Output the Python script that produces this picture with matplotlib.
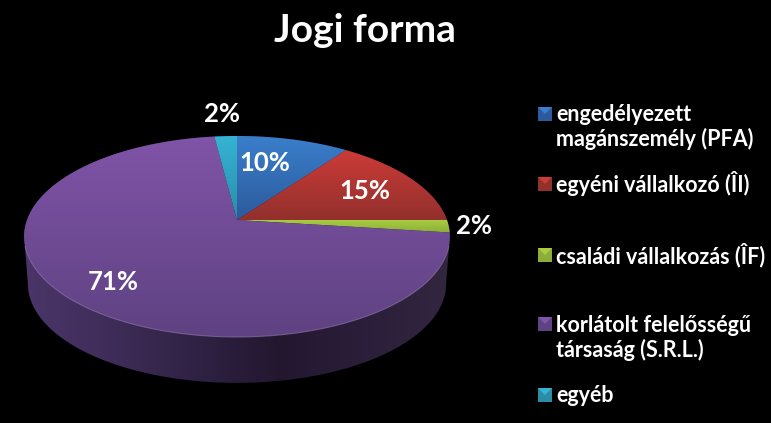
import matplotlib
matplotlib.use('Agg')
import matplotlib.pyplot as plt
from matplotlib.colors import LinearSegmentedColormap
from matplotlib.patches import Polygon
import numpy as np

plt.rcParams['font.family'] = ['Lato', 'DejaVu Sans']

cim = 'Jogi forma'
kategoriak = ['engedélyezett\nmagánszemély (PFA)', 'egyéni vállalkozó (ÎI)', 'családi vállalkozás (ÎF)',
              'korlátolt felelősségű\ntársaság (S.R.L.)', 'egyéb']
ertekek = [10, 15, 2, 71, 2]
szinek_fent = ['#3a7fcc', '#cc3b37', '#a8cc42', '#8054a8', '#36b4d4']
szinek_lent = ['#2c5a9c', '#92302c', '#8cae38', '#5f4282', '#2b8ca8']

# a tortalap vetítése: középpont, sugár, perspektíva
cx, cy, R, A, k = 237, 220, 210, 97.8, 0.164
melyseg, szukules = 48, 0.982

def vetit(szog, le=0, sk=1.0):
    u, v = np.sin(szog), np.cos(szog)
    w = 1 + k*v
    return cx + sk*R*u/w, cy + le - sk*A*v/w

fig = plt.figure(figsize=(7.71, 4.23), dpi=100, facecolor='black')
ax = fig.add_axes([0, 0, 1, 1])
ax.set_facecolor('black')

def gradiens(pontok, szinek, vizszintes=False, z=2):
    'sokszög kitöltése színátmenettel'
    cmap = LinearSegmentedColormap.from_list('g', szinek)
    x0, x1 = pontok[:, 0].min(), pontok[:, 0].max()
    y0, y1 = pontok[:, 1].min(), pontok[:, 1].max()
    g = np.linspace(0, 1, 256)
    g = g.reshape(1, -1) if vizszintes else g.reshape(-1, 1)
    kep = ax.imshow(g, cmap=cmap, extent=[x0, x1, y1, y0], aspect='auto', zorder=z, interpolation='bilinear')
    p = Polygon(pontok, closed=True, fc='none', ec='none', transform=ax.transData)
    ax.add_patch(p)
    kep.set_clip_path(p)

# oldalfal: a lap legszélesebb pontjaitól indul
t1 = np.radians(np.linspace(-99.5, 99.5, 200))
t2 = np.radians(np.linspace(99.5, 260.5, 200))
fent = np.column_stack(vetit(t1))
lent = np.column_stack(vetit(t2, melyseg, szukules))
gradiens(np.vstack([fent, lent]), ['#4b3569', '#3f2d59', '#2f2244', '#231730', '#2a1e3a', '#33263f'],
         vizszintes=True, z=1)

# felső lap szeletei: a függőleges átmenet a teljes lapra vonatkozik
hatarok = np.cumsum([0] + ertekek) / sum(ertekek) * 2 * np.pi
ymin, ymax = cy - A/(1+k), cy + A/(1-k)
for i, ertek in enumerate(ertekek):
    t = np.linspace(hatarok[i], hatarok[i+1], 200)
    ivx, ivy = vetit(t)
    pontok = np.vstack([[cx, cy], np.column_stack([ivx, ivy])])
    p = Polygon(pontok, closed=True, fc='none', ec='none')
    ax.add_patch(p)
    cmap = LinearSegmentedColormap.from_list('g', [szinek_fent[i], szinek_lent[i]])
    y0, y1 = pontok[:, 1].min(), pontok[:, 1].max()
    if ertek > 50:
        y0, y1 = ymin, ymax
    kep = ax.imshow(np.linspace(0, 1, 256).reshape(-1, 1), cmap=cmap, aspect='auto', zorder=2,
                    extent=[pontok[:, 0].min(), pontok[:, 0].max(), y1, y0], interpolation='bilinear')
    kep.set_clip_path(p)

# perem világos csíkja
t = np.radians(np.linspace(105, 255, 200))
ax.plot(*vetit(t), color='#8f78aa', lw=0.8, alpha=0.6, zorder=3)

# százalékos címkék
cimke_helyek = [(265, 163), (365, 191), (474, 226), (113, 282), (222, 114)]
for ertek, (x, y) in zip(ertekek, cimke_helyek):
    ax.text(x, y, f'{ertek}%', color='white', fontsize=18.5, fontweight='bold', ha='center', va='center', zorder=5)

ax.text(365, 31, cim, color='white', fontsize=28, fontweight='bold', ha='center', va='center')

# jelmagyarázat
jel_y = [114, 184, 255, 324, 395]
szoveg_y = [127, 183, 255, 338, 395]
for i, nev in enumerate(kategoriak):
    y = jel_y[i]
    ax.add_patch(Polygon([[538, y-7], [552, y-7], [552, y+7], [538, y+7]], fc=szinek_lent[i], ec='none', zorder=4))
    ax.add_patch(Polygon([[538, y-7], [552, y-7], [545, y]], fc=szinek_fent[i], ec='none', zorder=5))
    ax.text(556, szoveg_y[i], nev, color='white', fontsize=15.5, fontweight='bold', ha='left', va='center',
            linespacing=1.2, zorder=5)

ax.set_xlim(0, 771)
ax.set_ylim(423, 0)
ax.axis('off')
fig.savefig('out.png', dpi=100, facecolor='black')
